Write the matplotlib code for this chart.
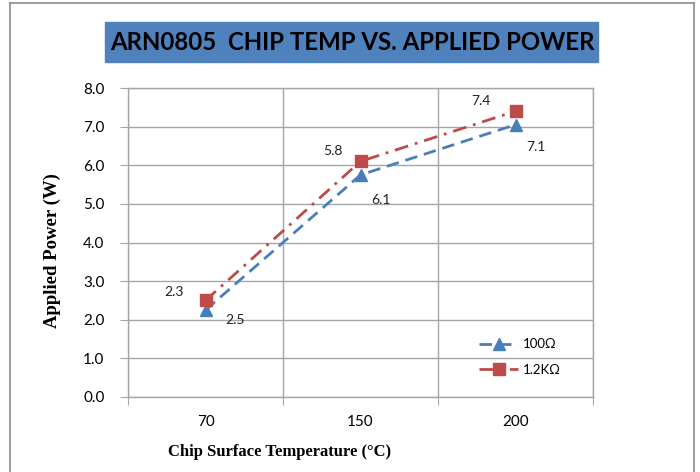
import matplotlib
matplotlib.use("Agg")
import matplotlib.pyplot as plt
from matplotlib.patches import Rectangle
from matplotlib.lines import Line2D

# ===== DATA =====
temps = ["70", "150", "200"]
power_100 = [2.25, 5.75, 7.05]
power_1k2 = [2.5, 6.1, 7.4]
labels_100 = ["2.5", "6.1", "7.1"]
labels_1k2 = ["2.3", "5.8", "7.4"]
y_ticks = [0, 1, 2, 3, 4, 5, 6, 7, 8]

# label offsets in pixels (text centre relative to marker)
offs_100 = [(30, -10), (21, -25), (20, -22)]
offs_1k2 = [(-32, 8), (-28, 10), (-35, 10)]

blue = "#4a7ebb"
red = "#be4b48"
grid_c = "#a6a6a6"

W, H = 700, 472
fig = plt.figure(figsize=(7, 4.72), dpi=100)
ax = fig.add_axes([128 / W, 1 - 397 / H, (593 - 128) / W, (397 - 88) / H])

x = list(range(len(temps)))

# ===== SERIES =====
ax.plot(x, power_100, color=blue, lw=2, ls=(0, (4.5, 2.5)), marker="^",
        ms=8, mec=blue, mfc=blue, label="100Ω", zorder=3)
ax.plot(x, power_1k2, color=red, lw=2, ls=(0, (5, 2.5, 1, 2.5)), marker="s",
        ms=8, mec=red, mfc=red, label="1.2KΩ", zorder=3)

lab_font = dict(family="Lato", size=10, color="#222222")
for i in x:
    ax.annotate(labels_100[i], (x[i], power_100[i]), xytext=offs_100[i],
                textcoords="offset pixels", ha="center", va="center", **lab_font)
    ax.annotate(labels_1k2[i], (x[i], power_1k2[i]), xytext=offs_1k2[i],
                textcoords="offset pixels", ha="center", va="center", **lab_font)

# ===== AXES =====
ax.set_xlim(-0.5, len(temps) - 0.5)
ax.set_ylim(0, 8)
ax.set_yticks(y_ticks)
ax.set_yticklabels([f"{v:.1f}" for v in y_ticks], family="Lato", fontsize=11)
ax.set_xticks([i - 0.5 for i in range(len(temps) + 1)])
ax.set_xticklabels([])
ax.set_xticks(x, minor=True)
ax.set_xticklabels(temps, minor=True, family="Lato", fontsize=11)
ax.tick_params(axis="x", which="major", length=6, color=grid_c, direction="out")
ax.tick_params(axis="x", which="minor", length=0, pad=13)
ax.tick_params(axis="y", length=6, color=grid_c, direction="out", pad=11)
ax.grid(True, which="major", color=grid_c, lw=1)
ax.set_axisbelow(True)
for s in ax.spines.values():
    s.set_color(grid_c)
    s.set_linewidth(1)

# ===== LEGEND =====
ax.legend(loc="center left", bbox_to_anchor=(467 / W, 1 - 357 / H),
          bbox_transform=fig.transFigure, frameon=False, numpoints=1,
          handlelength=3, handletextpad=0.3, labelspacing=1.0,
          prop=dict(family="Lato", size=9.5))

# ===== TITLE AND AXIS LABELS =====
fig.patches.append(Rectangle((105 / W, 1 - 62 / H), 493 / W, 40 / H,
                             transform=fig.transFigure, color="#4f81bd", zorder=0))
fig.text(352 / W, 1 - 42 / H, "ARN0805  CHIP TEMP VS. APPLIED POWER",
         ha="center", va="center", family="Lato", weight="bold", fontsize=17.3)
fig.text(280 / W, 1 - 452 / H, "Chip Surface Temperature (°C)",
         ha="center", va="center", family="Liberation Serif", weight="bold", fontsize=12)
fig.text(52 / W, 1 - 251 / H, "Applied Power (W)", rotation=90,
         ha="center", va="center", family="Liberation Serif", weight="bold", fontsize=13.5)

# ===== OUTER FRAME =====
frame = dict(color="#8c8c8c", lw=1.2, transform=fig.transFigure)
fig.lines.append(Line2D([10 / W, 694 / W], [1 - 3 / H, 1 - 3 / H], **frame))
fig.lines.append(Line2D([10 / W, 10 / W], [1 - 3 / H, 0], **frame))
fig.lines.append(Line2D([694 / W, 694 / W], [1 - 3 / H, 0], **frame))

fig.savefig("out.png", dpi=100)
